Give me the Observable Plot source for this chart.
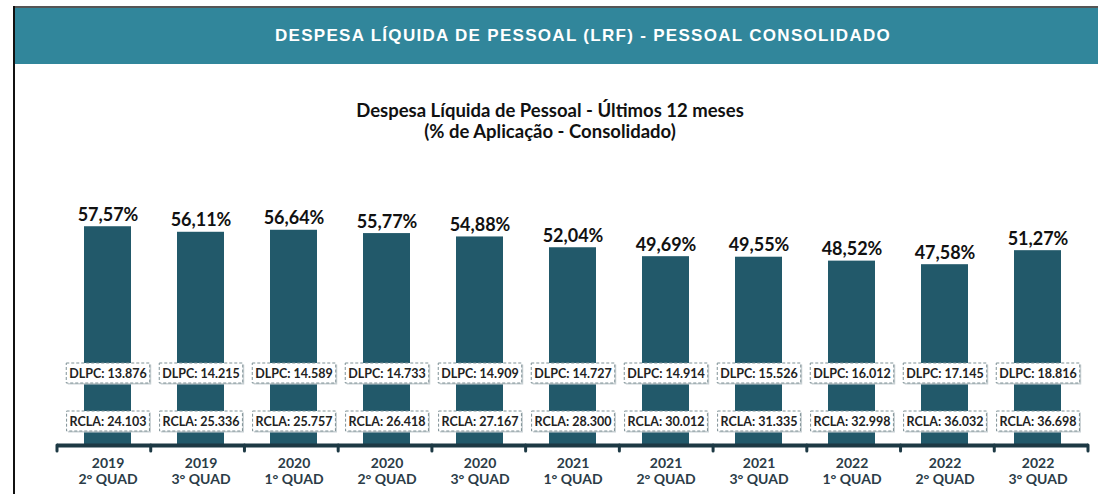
<!DOCTYPE html>
<html><head><meta charset="utf-8">
<script src="https://cdn.jsdelivr.net/npm/d3@7"></script>
<script src="https://cdn.jsdelivr.net/npm/@observablehq/plot@0.6"></script>
<style>
body{margin:0;width:1098px;height:494px;overflow:hidden;background:#fff;position:relative;font-family:Lato,"Open Sans",sans-serif}
#topline{position:absolute;left:13px;top:6px;right:0;height:2px;background:#555}
#leftline{position:absolute;left:13px;top:6px;width:2px;bottom:0;background:#111}
#band{position:absolute;left:15px;top:8px;right:0;height:56px;background:#31869b}
#hdr{position:absolute;left:583px;top:36px;transform:translate(-50%,-50%);color:#fff;font:bold 17px "Liberation Sans",Arial,sans-serif;letter-spacing:1.3px;white-space:nowrap}
#title{position:absolute;left:0;width:1100px;top:100px;text-align:center;font-weight:bold;font-size:18.5px;line-height:21px;color:#111}
#chart{position:absolute;left:16px;top:150px}
</style></head><body>
<div id="topline"></div><div id="leftline"></div>
<div id="band"></div>
<div id="hdr">DESPESA LÍQUIDA DE PESSOAL (LRF) - PESSOAL CONSOLIDADO</div>
<div id="title">Despesa Líquida de Pessoal - Últimos 12 meses<br>(% de Aplicação - Consolidado)</div>
<div id="chart"></div>
<script>
const years = ["2019","2019","2020","2020","2020","2021","2021","2021","2022","2022","2022"];
const quads = ["2° QUAD","3° QUAD","1° QUAD","2° QUAD","3° QUAD","1° QUAD","2° QUAD","3° QUAD","1° QUAD","2° QUAD","3° QUAD"];
const pct = [57.57, 56.11, 56.64, 55.77, 54.88, 52.04, 49.69, 49.55, 48.52, 47.58, 51.27];
const dlpc = [13876, 14215, 14589, 14733, 14909, 14727, 14914, 15526, 16012, 17145, 18816];
const rcla = [24103, 25336, 25757, 26418, 27167, 28300, 30012, 31335, 32998, 36032, 36698];

const cats = years.map((y, i) => y + "\n" + quads[i]);
const data = cats.map((c, i) => ({cat: c, pct: pct[i], dlpc: dlpc[i], rcla: rcla[i]}));
const ptbr = d3.formatLocale({decimal: ",", thousands: ".", grouping: [3], currency: ["R$", ""]});
const fmtInt = ptbr.format(",d");
const fmtPct = d => ptbr.format(".2f")(d) + "%";
const axisColor = "#1d3944";

const boundaryTicks = (index, scales, values, dims) => {
  const n = cats.length;
  const x0 = dims.marginLeft, x1 = dims.width - dims.marginRight;
  const step = (x1 - x0) / n;
  const y0 = scales.y(0);
  const g = d3.create("svg:g");
  for (let k = 0; k <= n; k++) {
    const xx = x0 + k * step;
    g.append("line").attr("x1", xx).attr("x2", xx).attr("y1", y0).attr("y2", y0 + 6)
      .attr("stroke", axisColor).attr("stroke-width", 3).attr("stroke-linecap", "round");
  }
  return g.node();
};

const boxText = {fontSize: 12.5, fontWeight: "bold", fill: "#222", frameAnchor: "bottom"};

const chart = Plot.plot({
  width: 1082, height: 344,
  marginLeft: 41, marginRight: 10, marginTop: 67, marginBottom: 49,
  style: {background: "transparent", fontFamily: "Lato, 'Open Sans', sans-serif"},
  x: {domain: cats, paddingInner: 0.49, paddingOuter: 0.245},
  y: {domain: [0, 60], axis: null},
  marks: [
    Plot.barY(data, {x: "cat", y: "pct", fill: "#22596a"}),
    Plot.ruleY([0], {stroke: axisColor, strokeWidth: 4}),
    boundaryTicks,
    Plot.text(data, {x: "cat", y: "pct", text: d => fmtPct(d.pct), lineAnchor: "bottom", dy: -6, fontSize: 18, fontWeight: "bold", fill: "#111"}),
    Plot.text(data, {x: "cat", text: d => "DLPC: " + fmtInt(d.dlpc), dy: -68, ...boxText}),
    Plot.text(data, {x: "cat", text: d => "RCLA: " + fmtInt(d.rcla), dy: -20, ...boxText}),
    Plot.axisX({tickSize: 0, tickPadding: 12, fontSize: 14, fontWeight: "bold", color: "#2b3c47", lineHeight: 1.1, label: null})
  ]
});
document.getElementById("chart").append(chart);

function addBoxes() {
  const NS = "http://www.w3.org/2000/svg";
  chart.querySelectorAll("text").forEach(t => {
    const s = t.textContent;
    if (!/^(DLPC|RCLA)/.test(s)) return;
    const b = t.getBBox();
    const tr = t.getAttribute("transform");
    const mk = (dx, dy, fill, stroke) => {
      const r = document.createElementNS(NS, "rect");
      r.setAttribute("x", b.x - 3 + dx); r.setAttribute("y", b.y - 2.5 + dy);
      r.setAttribute("width", b.width + 6); r.setAttribute("height", b.height + 5);
      r.setAttribute("fill", fill);
      if (stroke) { r.setAttribute("stroke", stroke); r.setAttribute("stroke-dasharray", "3,2"); r.setAttribute("stroke-width", 1); }
      else r.setAttribute("stroke", "none");
      if (tr) r.setAttribute("transform", tr);
      t.parentNode.insertBefore(r, t);
    };
    mk(1.5, 1.5, "#c8d0d3", null);
    mk(0, 0, "#ffffff", "#7f9196");
  });
}
addBoxes();
</script>
</body></html>
